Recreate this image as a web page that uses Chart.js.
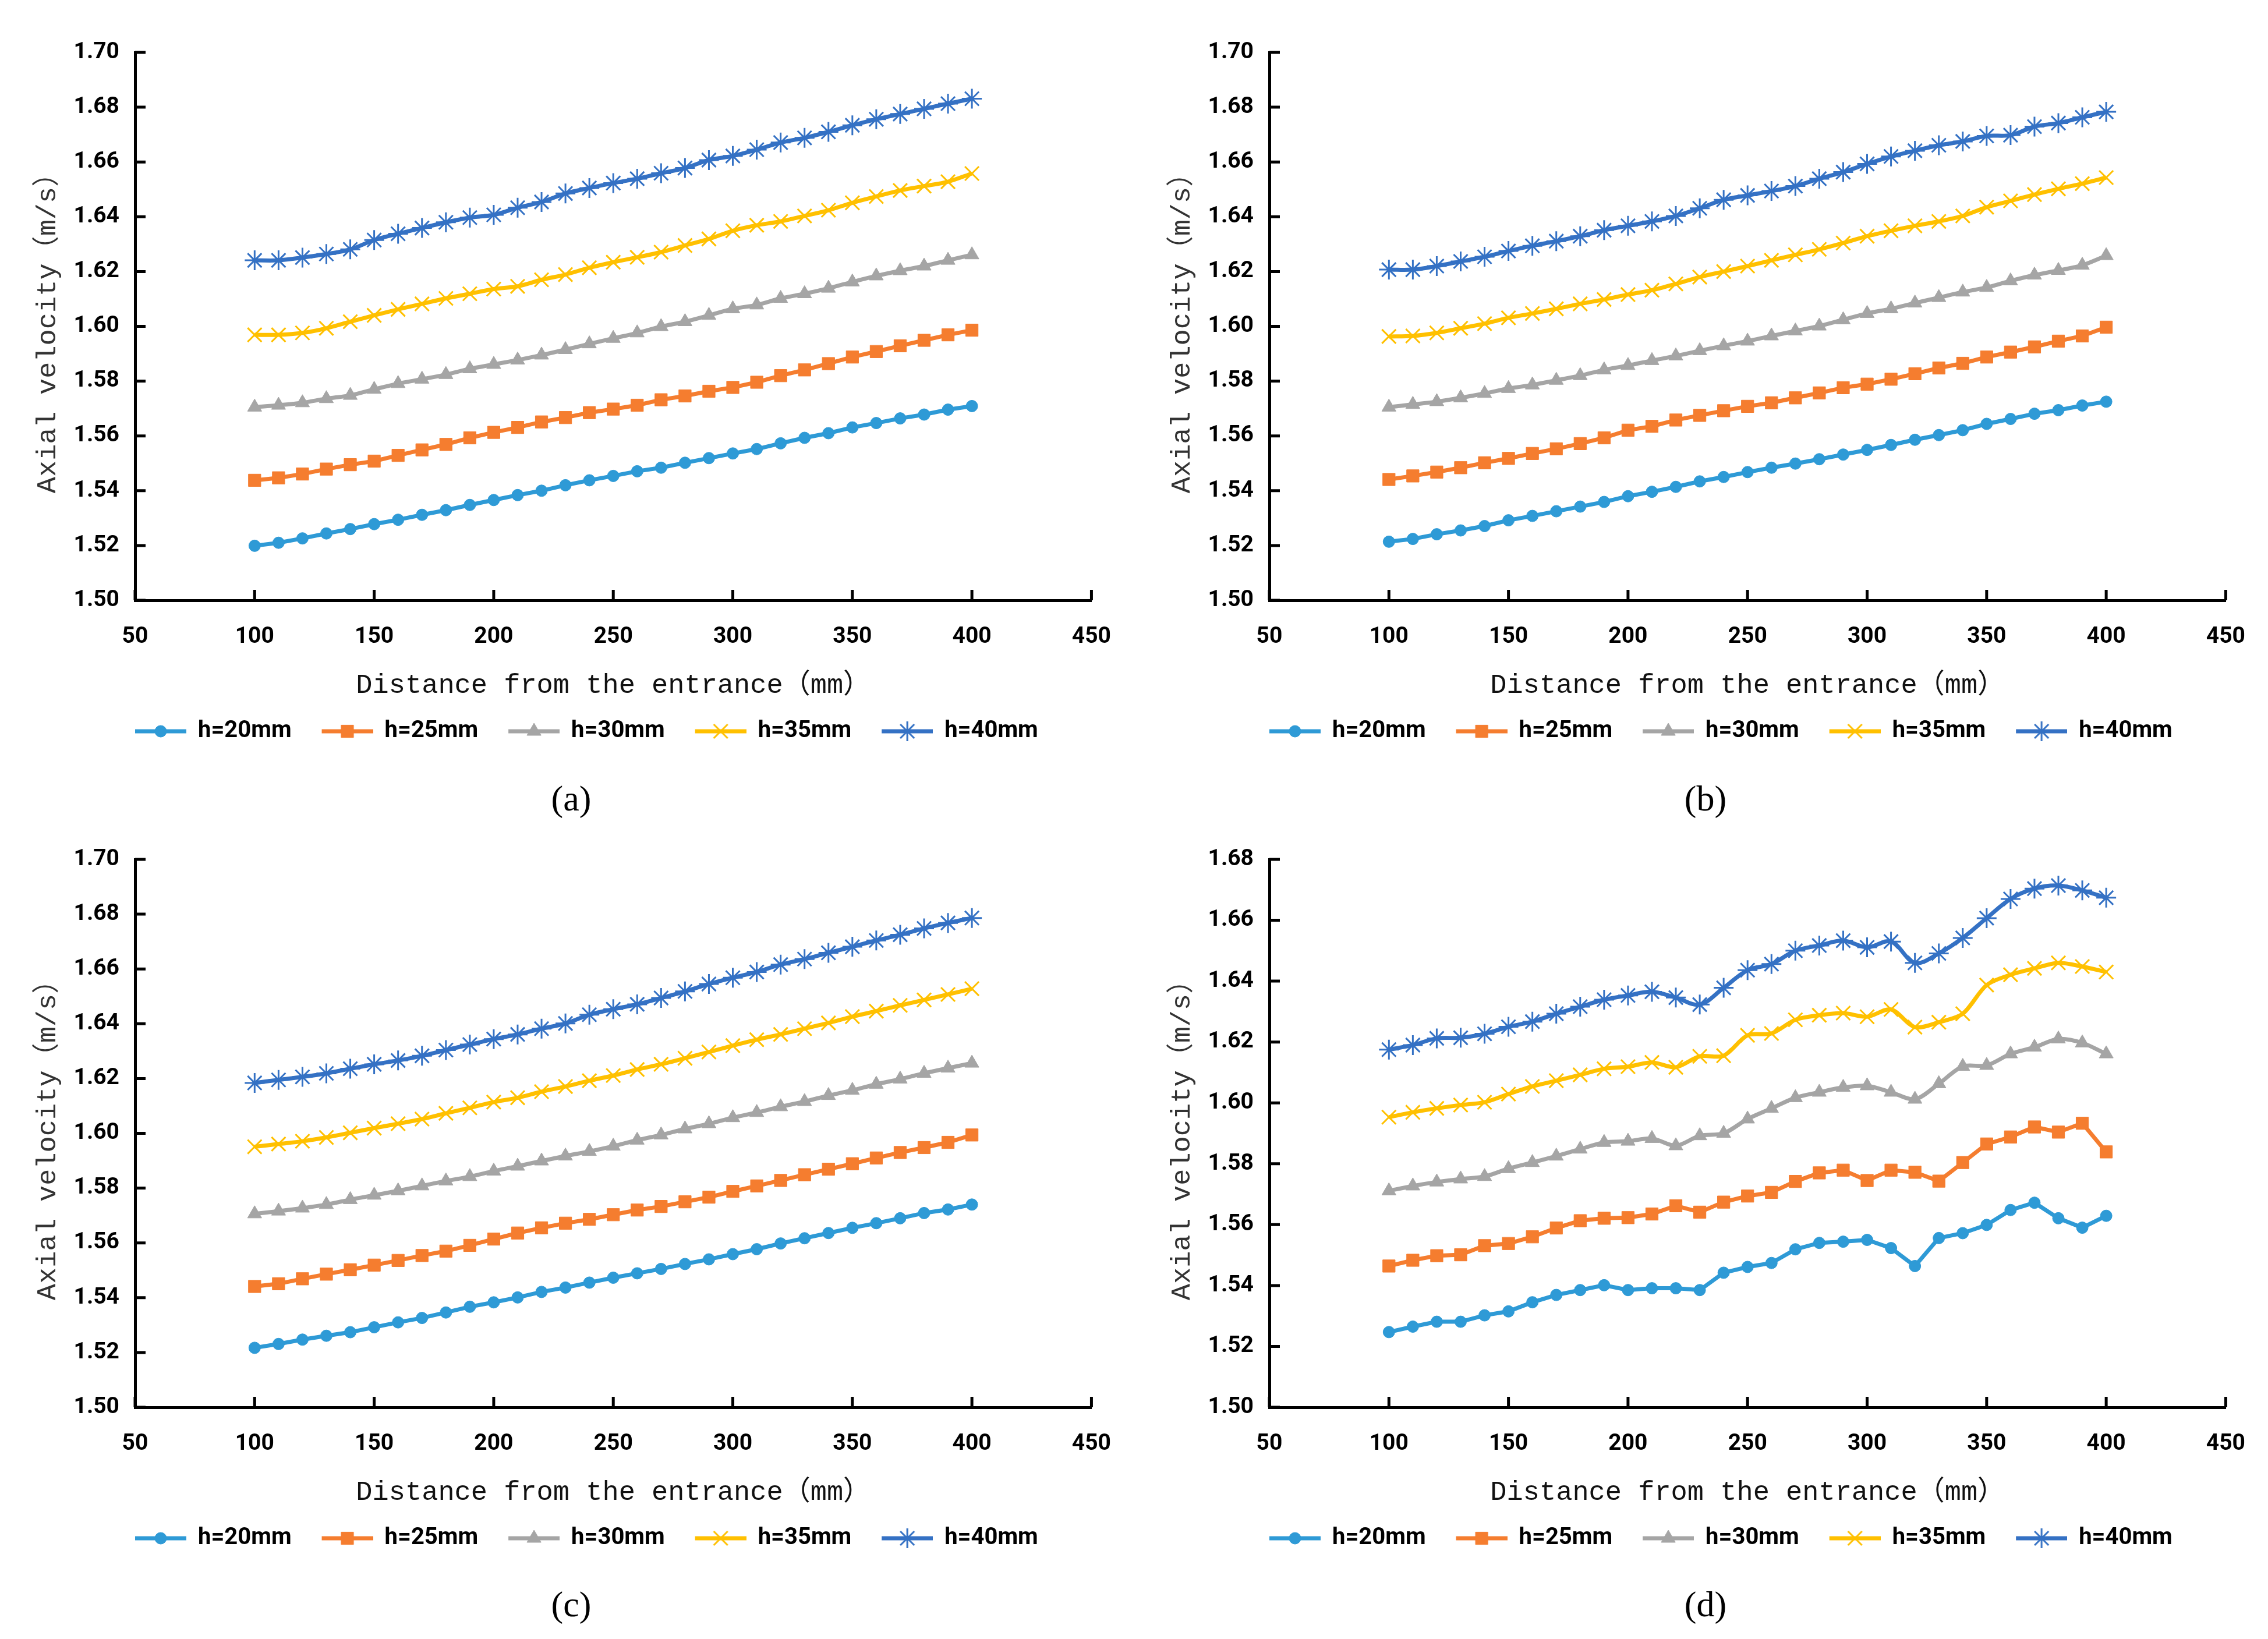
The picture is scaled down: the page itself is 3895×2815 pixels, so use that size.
<!DOCTYPE html>
<html>
<head>
<meta charset="utf-8">
<title>Axial velocity</title>
<script src="https://cdn.jsdelivr.net/npm/chart.js@4.4.1/dist/chart.umd.min.js"></script>
<style>
html, body { margin: 0; padding: 0; background: #fff; }
body { width: 3895px; height: 2815px; position: relative; overflow: hidden; }
canvas { position: absolute; }
.cap { position: absolute; width: 200px; margin-left: -100px; text-align: center;
       font-family: 'Liberation Serif', 'DejaVu Serif', serif; font-size: 62px; line-height: 1; color: #000; }
</style>
</head>
<body>
<canvas id="chartA" width="1948" height="1330" style="left:0px;top:0px"></canvas>
<canvas id="chartB" width="1948" height="1330" style="left:1948px;top:0px"></canvas>
<canvas id="chartC" width="1948" height="1330" style="left:0px;top:1386px"></canvas>
<canvas id="chartD" width="1948" height="1330" style="left:1948px;top:1386px"></canvas>
<div class="cap" style="left:981px;top:1340px">(a)</div>
<div class="cap" style="left:2929px;top:1340px">(b)</div>
<div class="cap" style="left:981px;top:2724px">(c)</div>
<div class="cap" style="left:2929px;top:2724px">(d)</div>
<script>
// distance from the entrance (mm)
const xs = [100, 110, 120, 130, 140, 150, 160, 170, 180, 190, 200, 210, 220, 230, 240, 250,
            260, 270, 280, 290, 300, 310, 320, 330, 340, 350, 360, 370, 380, 390, 400];
const seriesNames = ['h=20mm', 'h=25mm', 'h=30mm', 'h=35mm', 'h=40mm'];
const xTitle = 'Distance from the entrance（mm）';
const yTitle = 'Axial velocity（m/s）';

// (a)
const a20 = [1.5199, 1.5210, 1.5226, 1.5244, 1.5260, 1.5278, 1.5294, 1.5312, 1.5329, 1.5348, 1.5366, 1.5384, 1.5400, 1.5420, 1.5438, 1.5454,
             1.5471, 1.5484, 1.5502, 1.5519, 1.5536, 1.5552, 1.5573, 1.5593, 1.5610, 1.5631, 1.5647, 1.5664, 1.5678, 1.5696, 1.5709];
const a25 = [1.5438, 1.5447, 1.5461, 1.5479, 1.5495, 1.5508, 1.5529, 1.5549, 1.5569, 1.5593, 1.5613, 1.5631, 1.5651, 1.5667, 1.5685, 1.5698,
             1.5712, 1.5732, 1.5746, 1.5763, 1.5777, 1.5796, 1.5820, 1.5841, 1.5864, 1.5888, 1.5908, 1.5929, 1.5949, 1.5969, 1.5986];
const a30 = [1.5705, 1.5712, 1.5721, 1.5736, 1.5748, 1.5770, 1.5791, 1.5807, 1.5824, 1.5845, 1.5861, 1.5877, 1.5895, 1.5915, 1.5936, 1.5956,
             1.5976, 1.5999, 1.6017, 1.6040, 1.6064, 1.6078, 1.6102, 1.6119, 1.6139, 1.6162, 1.6184, 1.6203, 1.6220, 1.6241, 1.6261];
const a35 = [1.5969, 1.5969, 1.5976, 1.5993, 1.6017, 1.6040, 1.6062, 1.6082, 1.6102, 1.6119, 1.6136, 1.6146, 1.6170, 1.6189, 1.6214, 1.6234,
             1.6252, 1.6271, 1.6295, 1.6319, 1.6349, 1.6369, 1.6383, 1.6403, 1.6424, 1.6451, 1.6474, 1.6496, 1.6512, 1.6528, 1.6558];
const a40 = [1.6241, 1.6241, 1.6251, 1.6264, 1.6281, 1.6315, 1.6338, 1.6359, 1.6380, 1.6397, 1.6407, 1.6433, 1.6454, 1.6485, 1.6505, 1.6523,
             1.6539, 1.6559, 1.6578, 1.6607, 1.6622, 1.6645, 1.6671, 1.6688, 1.6710, 1.6734, 1.6756, 1.6775, 1.6794, 1.6813, 1.6831];

// (b)
const b20 = [1.5214, 1.5224, 1.5241, 1.5255, 1.5271, 1.5292, 1.5308, 1.5325, 1.5342, 1.5359, 1.5380, 1.5396, 1.5414, 1.5434, 1.5450, 1.5468,
             1.5484, 1.5499, 1.5515, 1.5532, 1.5549, 1.5567, 1.5586, 1.5603, 1.5621, 1.5644, 1.5662, 1.5681, 1.5694, 1.5711, 1.5725];
const b25 = [1.5441, 1.5454, 1.5468, 1.5484, 1.5502, 1.5518, 1.5536, 1.5553, 1.5572, 1.5593, 1.5621, 1.5635, 1.5658, 1.5675, 1.5692, 1.5708,
             1.5721, 1.5739, 1.5757, 1.5776, 1.5789, 1.5807, 1.5827, 1.5848, 1.5865, 1.5888, 1.5906, 1.5925, 1.5946, 1.5965, 1.5997];
const b30 = [1.5705, 1.5715, 1.5725, 1.5739, 1.5755, 1.5773, 1.5786, 1.5803, 1.5820, 1.5841, 1.5857, 1.5875, 1.5892, 1.5911, 1.5929, 1.5946,
             1.5965, 1.5983, 1.6001, 1.6024, 1.6047, 1.6064, 1.6085, 1.6105, 1.6125, 1.6142, 1.6166, 1.6187, 1.6204, 1.6223, 1.6258];
const b35 = [1.5963, 1.5965, 1.5976, 1.5993, 1.6010, 1.6031, 1.6047, 1.6064, 1.6082, 1.6098, 1.6116, 1.6132, 1.6155, 1.6180, 1.6200, 1.6220,
             1.6241, 1.6261, 1.6281, 1.6304, 1.6329, 1.6349, 1.6367, 1.6383, 1.6403, 1.6435, 1.6458, 1.6481, 1.6502, 1.6521, 1.6543];
const b40 = [1.6207, 1.6207, 1.6220, 1.6237, 1.6254, 1.6275, 1.6294, 1.6311, 1.6329, 1.6351, 1.6367, 1.6383, 1.6403, 1.6431, 1.6462, 1.6478,
             1.6494, 1.6512, 1.6539, 1.6563, 1.6593, 1.6620, 1.6641, 1.6661, 1.6675, 1.6695, 1.6698, 1.6729, 1.6742, 1.6763, 1.6783];

// (c)
const c20 = [1.5217, 1.5231, 1.5247, 1.5261, 1.5274, 1.5292, 1.5310, 1.5326, 1.5346, 1.5367, 1.5383, 1.5401, 1.5421, 1.5437, 1.5455, 1.5473,
             1.5489, 1.5505, 1.5523, 1.5540, 1.5559, 1.5577, 1.5598, 1.5617, 1.5636, 1.5655, 1.5672, 1.5690, 1.5709, 1.5722, 1.5740];
const c25 = [1.5441, 1.5451, 1.5469, 1.5486, 1.5502, 1.5519, 1.5536, 1.5554, 1.5570, 1.5591, 1.5614, 1.5636, 1.5655, 1.5672, 1.5686, 1.5703,
             1.5720, 1.5733, 1.5750, 1.5767, 1.5788, 1.5808, 1.5828, 1.5849, 1.5869, 1.5889, 1.5910, 1.5930, 1.5948, 1.5967, 1.5994];
const c30 = [1.5706, 1.5716, 1.5727, 1.5740, 1.5758, 1.5774, 1.5790, 1.5808, 1.5826, 1.5842, 1.5862, 1.5880, 1.5899, 1.5917, 1.5934, 1.5953,
             1.5975, 1.5994, 1.6016, 1.6035, 1.6057, 1.6076, 1.6097, 1.6116, 1.6138, 1.6157, 1.6179, 1.6198, 1.6219, 1.6238, 1.6256];
const c35 = [1.5951, 1.5961, 1.5971, 1.5985, 1.6002, 1.6019, 1.6035, 1.6052, 1.6073, 1.6093, 1.6114, 1.6130, 1.6152, 1.6171, 1.6192, 1.6211,
             1.6233, 1.6252, 1.6274, 1.6297, 1.6320, 1.6342, 1.6361, 1.6382, 1.6403, 1.6426, 1.6446, 1.6467, 1.6487, 1.6507, 1.6528];
const c40 = [1.6184, 1.6195, 1.6206, 1.6219, 1.6236, 1.6252, 1.6266, 1.6283, 1.6304, 1.6324, 1.6344, 1.6361, 1.6382, 1.6401, 1.6433, 1.6453,
             1.6471, 1.6494, 1.6518, 1.6545, 1.6568, 1.6589, 1.6616, 1.6636, 1.6659, 1.6681, 1.6704, 1.6725, 1.6748, 1.6768, 1.6786];

// (d)
const d20 = [1.5247, 1.5265, 1.5281, 1.5281, 1.5302, 1.5315, 1.5345, 1.5369, 1.5385, 1.5401, 1.5385, 1.5391, 1.5391, 1.5385, 1.5442, 1.5461,
             1.5474, 1.5519, 1.5540, 1.5544, 1.5550, 1.5523, 1.5464, 1.5556, 1.5572, 1.5599, 1.5648, 1.5672, 1.5621, 1.5590, 1.5629];
const d25 = [1.5464, 1.5483, 1.5498, 1.5501, 1.5531, 1.5538, 1.5560, 1.5589, 1.5613, 1.5621, 1.5623, 1.5635, 1.5662, 1.5641, 1.5674, 1.5694,
             1.5706, 1.5742, 1.5770, 1.5779, 1.5745, 1.5779, 1.5772, 1.5743, 1.5804, 1.5865, 1.5888, 1.5921, 1.5904, 1.5933, 1.5839];
const d30 = [1.5711, 1.5727, 1.5740, 1.5750, 1.5758, 1.5784, 1.5804, 1.5825, 1.5848, 1.5870, 1.5874, 1.5883, 1.5859, 1.5892, 1.5900, 1.5947,
             1.5982, 1.6017, 1.6035, 1.6051, 1.6056, 1.6035, 1.6012, 1.6063, 1.6120, 1.6123, 1.6161, 1.6183, 1.6210, 1.6197, 1.6161];
const d35 = [1.5953, 1.5969, 1.5982, 1.5993, 1.6002, 1.6029, 1.6054, 1.6073, 1.6092, 1.6112, 1.6119, 1.6133, 1.6117, 1.6153, 1.6155, 1.6222,
             1.6228, 1.6273, 1.6288, 1.6295, 1.6283, 1.6307, 1.6249, 1.6265, 1.6293, 1.6387, 1.6421, 1.6442, 1.6460, 1.6448, 1.6430];
const d40 = [1.6175, 1.6190, 1.6212, 1.6214, 1.6227, 1.6250, 1.6267, 1.6293, 1.6316, 1.6339, 1.6353, 1.6365, 1.6346, 1.6323, 1.6378, 1.6436,
             1.6456, 1.6500, 1.6517, 1.6533, 1.6511, 1.6530, 1.6460, 1.6491, 1.6542, 1.6607, 1.6670, 1.6704, 1.6714, 1.6698, 1.6674];

// look of the five series
const lineColors = ['#2e9ad6', '#f57d2f', '#a5a5a5', '#ffc000', '#3471c4'];
const markerStyles = ['circle', 'rect', 'triangle', 'crossRot', 'star'];
const markerSizes = [10, 15, 14, 17, 17];
const markerBorders = [1, 1, 1, 3, 3];
const lineTension = [0, 0, 0.3, 0.3, 0.35];

const tickFont = "Roboto, 'Liberation Sans', sans-serif";
const monoFont = "'Liberation Mono', 'DejaVu Sans Mono', 'Noto Sans CJK SC', monospace";

// line + marker picture for the legend, like the spreadsheet legend
function legendIcon(i) {
    const c = document.createElement('canvas');
    c.width = 120;
    c.height = 44;
    const g = c.getContext('2d');
    g.strokeStyle = lineColors[i];
    g.lineWidth = 7;
    g.beginPath();
    g.moveTo(32, 22);
    g.lineTo(120, 22);
    g.stroke();
    g.fillStyle = lineColors[i];
    g.lineWidth = markerBorders[i];
    Chart.helpers.drawPoint(g, {
        pointStyle: markerStyles[i], radius: markerSizes[i], rotation: 0, borderWidth: markerBorders[i]
    }, 76, 22);
    return c;
}

// inward tick marks on both axes
const innerTicks = {
    id: 'innerTicks',
    afterDatasetsDraw(chart) {
        const ctx = chart.ctx;
        const xS = chart.scales.x;
        const yS = chart.scales.y;
        const area = chart.chartArea;
        ctx.save();
        ctx.strokeStyle = '#000';
        ctx.lineWidth = 5;
        ctx.beginPath();
        xS.ticks.forEach(t => {
            const px = xS.getPixelForValue(t.value);
            ctx.moveTo(px, area.bottom);
            ctx.lineTo(px, area.bottom - 18);
        });
        yS.ticks.forEach(t => {
            const py = yS.getPixelForValue(t.value);
            ctx.moveTo(area.left, py);
            ctx.lineTo(area.left + 18, py);
        });
        ctx.stroke();
        ctx.restore();
    }
};

// legend row starts under the y axis like in the figure
const legendPlace = {
    id: 'legendPlace',
    afterLayout(chart) {
        const lg = chart.legend;
        if (!lg || !lg.lineWidths) return;
        const pad = lg.options.labels.padding;
        const rowStart = (lg.left + pad + lg.right - lg.lineWidths[0]) / 2;
        const dx = 200 - rowStart;
        lg.left += dx;
        lg.right += dx;
    }
};

function buildChart(id, series, yMax) {
    const icons = series.map((s, i) => legendIcon(i));
    const datasets = series.map((vals, i) => ({
        label: seriesNames[i],
        data: xs.map((x, k) => ({ x: x, y: vals[k] })),
        borderColor: lineColors[i],
        backgroundColor: lineColors[i],
        borderWidth: 7,
        pointStyle: markerStyles[i],
        pointRadius: markerSizes[i],
        pointBorderWidth: markerBorders[i],
        pointBackgroundColor: lineColors[i],
        pointBorderColor: lineColors[i],
        tension: lineTension[i],
        fill: false
    }));

    new Chart(document.getElementById(id), {
        type: 'line',
        data: { datasets: datasets },
        options: {
            responsive: false,
            animation: false,
            devicePixelRatio: 1,
            layout: { padding: { left: 20, right: 58, top: 90, bottom: 44 } },
            scales: {
                x: {
                    type: 'linear',
                    min: 50,
                    max: 450,
                    grid: { display: false, drawTicks: false },
                    border: { display: true, color: '#000', width: 5 },
                    ticks: {
                        stepSize: 50, padding: 40, color: '#000', maxRotation: 0, autoSkip: false,
                        font: { family: tickFont, size: 39, weight: 'bold' }
                    },
                    title: {
                        display: true, text: xTitle, color: '#111',
                        padding: { top: 0, bottom: 10 },
                        font: { family: monoFont, size: 47 }
                    },
                    afterFit: s => { s.height = 185; }
                },
                y: {
                    min: 1.5,
                    max: yMax,
                    grid: { display: false, drawTicks: false },
                    border: { display: true, color: '#000', width: 5 },
                    ticks: {
                        stepSize: 0.02, padding: 27, color: '#000', autoSkip: false,
                        callback: v => v.toFixed(2),
                        font: { family: tickFont, size: 39, weight: 'bold' }
                    },
                    title: {
                        display: true, text: yTitle, color: '#333',
                        padding: { top: 34, bottom: 0 },
                        font: { family: monoFont, size: 47 }
                    },
                    afterFit: s => { s.width = 212; }
                }
            },
            plugins: {
                legend: {
                    position: 'bottom',
                    labels: {
                        usePointStyle: true,
                        pointStyleWidth: 120,
                        padding: 20,
                        color: '#000',
                        font: { family: tickFont, size: 40, weight: 'bold' },
                        generateLabels: chart => {
                            const items = Chart.defaults.plugins.legend.labels.generateLabels(chart);
                            items.forEach((it, i) => { it.pointStyle = icons[i]; });
                            return items;
                        }
                    }
                },
                tooltip: { enabled: false }
            }
        },
        plugins: [innerTicks, legendPlace]
    });
}

buildChart('chartA', [a20, a25, a30, a35, a40], 1.70);
buildChart('chartB', [b20, b25, b30, b35, b40], 1.70);
buildChart('chartC', [c20, c25, c30, c35, c40], 1.70);
buildChart('chartD', [d20, d25, d30, d35, d40], 1.68);
</script>
</body>
</html>
